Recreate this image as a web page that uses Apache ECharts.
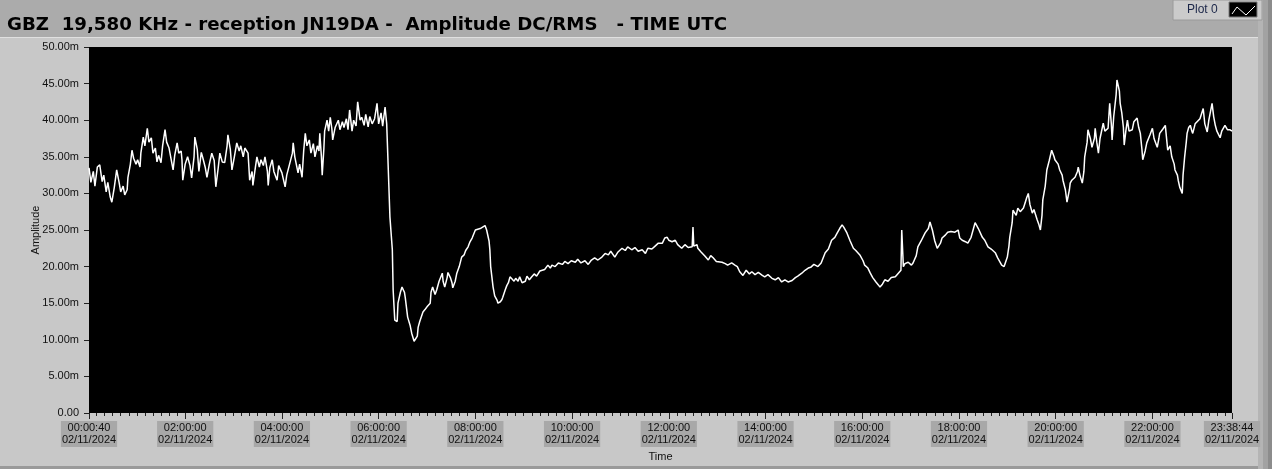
<!DOCTYPE html>
<html><head><meta charset="utf-8">
<script src="https://cdn.jsdelivr.net/npm/echarts@6/dist/echarts.min.js"></script>
<style>html,body{margin:0;padding:0;background:#c8c8c8;overflow:hidden}#c{width:1272px;height:469px}</style>
</head><body><div id="c"></div>
<script>
const titleText = 'GBZ  19,580 KHz - reception JN19DA -  Amplitude DC/RMS   - TIME UTC';
const seriesName = 'Plot 0';
const dateLabel = '02/11/2024';
const yAxisName = 'Amplitude';
const xAxisName = 'Time';
// minutes after midnight (UTC)
const startMin = 40 / 60;              // 00:00:40
const endMin = 23 * 60 + 38 + 44 / 60; // 23:38:44
const hourTicks = [120, 240, 360, 480, 600, 720, 840, 960, 1080, 1200, 1320];
const yTicks = [0, 5, 10, 15, 20, 25, 30, 35, 40, 45, 50];

const timeMin = [
0.67,3,6,8,11,14,17,19,22,24,
27,29,32,35,38,40,43,45,48,49,
52,54,56,59,61,64,65,68,70,73,
75,78,80,83,85,87,90,92,95,97,
100,102,105,107,110,112,115,116,117,120,
123,126,128,131,132,135,137,140,142,145,
147,150,153,156,158,161,163,166,169,172,
173,176,178,181,184,187,189,192,194,198,
200,203,204,207,209,212,214,217,219,222,
223,225,228,230,234,236,238,240,244,246,
250,253,254,256,260,262,265,267,269,271,
274,276,279,281,284,286,287,289,290,292,
293,296,298,300,302,303,306,310,312,315,
317,320,322,324,327,329,332,334,337,339,
342,344,347,349,352,355,358,360,363,365,
368,370,372,374,377,378,380,383,384,387,
389,392,393,396,399,401,404,405,408,409,
411,415,418,420,424,425,427,430,432,435,
439,440,442,445,446,449,451,452,455,457,
460,463,466,468,471,473,476,480,482,486,
488,492,494,497,498,499,502,504,507,508,
511,513,514,517,519,521,523,525,528,530,
533,535,538,542,544,547,550,553,556,560,
563,566,570,573,575,579,583,588,591,595,
599,604,607,611,616,620,624,628,632,637,
641,645,648,653,657,662,666,669,674,678,
682,687,691,694,699,703,707,712,715,718,
720,724,728,731,736,740,744,749,750,751,
755,756,760,765,769,772,775,779,781,786,
790,793,798,802,805,808,812,816,820,823,
827,831,836,839,843,848,852,856,860,864,
868,873,877,880,885,889,893,896,900,905,
909,914,918,922,926,929,932,935,937,941,
945,949,952,957,961,963,967,970,973,977,
980,982,985,988,992,996,1001,1004,1008,1009,
1011,1013,1017,1021,1023,1027,1029,1033,1038,1042,
1044,1047,1050,1053,1057,1059,1063,1066,1070,1075,
1079,1081,1084,1088,1091,1095,1100,1104,1109,1112,
1116,1120,1125,1128,1133,1136,1140,1142,1143,1146,
1147,1151,1153,1156,1160,1162,1164,1166,1168,1171,
1173,1177,1179,1181,1183,1184,1187,1189,1192,1195,
1198,1199,1203,1205,1208,1209,1212,1214,1217,1218,
1220,1224,1227,1228,1230,1233,1235,1236,1239,1240,
1243,1245,1248,1249,1251,1253,1255,1259,1261,1265,
1267,1269,1270,1272,1275,1276,1279,1280,1282,1284,
1285,1287,1289,1291,1295,1297,1301,1303,1305,1307,
1308,1311,1313,1317,1320,1322,1326,1328,1329,1333,
1336,1338,1339,1342,1344,1347,1348,1351,1352,1354,
1357,1358,1360,1362,1363,1365,1367,1369,1370,1373,
1375,1379,1383,1385,1388,1390,1394,1396,1398,1400,
1404,1406,1410,1413,1416,1418.73
];
// amplitude in milli-units
const amplitude = [
33.5,31.5,33.0,31.0,33.6,33.9,31.6,32.5,30.2,31.5,
29.5,28.8,30.8,33.2,31.5,30.2,31.0,29.8,30.5,32.2,
34.0,35.9,34.8,34.0,34.6,33.6,35.5,37.7,36.5,38.9,
37.0,37.6,35.5,36.2,34.3,35.2,34.2,36.5,38.7,37.0,
36.2,35.0,33.2,35.2,36.9,35.5,35.8,34.6,31.8,34.0,
35.0,33.8,32.1,35.0,37.7,36.0,33.0,35.6,34.8,33.5,
32.2,34.0,35.5,34.5,30.9,33.5,35.5,34.3,34.2,36.5,
38.0,36.0,33.2,35.0,36.9,35.8,36.5,35.0,36.2,35.5,
31.8,33.0,31.1,33.5,35.0,33.6,34.6,33.8,35.0,33.0,
31.1,33.5,34.6,33.0,31.8,33.8,34.0,32.8,30.9,32.5,
34.2,35.5,36.9,35.0,32.8,34.0,32.2,35.8,38.2,36.5,
37.3,35.5,36.8,35.0,36.5,35.8,38.2,35.0,32.5,36.0,
38.5,40.0,38.5,40.4,38.8,37.3,39.0,40.0,38.7,39.8,
39.0,40.2,38.7,41.4,38.5,40.0,39.2,42.5,40.0,40.4,
39.3,40.8,39.1,40.5,39.5,40.2,42.3,39.5,41.0,39.2,
41.8,39.5,33.2,26.8,22.3,16.8,12.7,12.5,15.0,16.5,
17.2,16.5,15.8,13.1,12.0,10.9,9.8,9.6,10.5,11.7,
12.5,13.8,14.2,14.5,15.0,16.5,17.2,16.2,16.8,18.0,
19.1,18.0,17.2,18.5,19.2,18.5,17.8,17.1,18.0,19.1,
20.0,21.3,21.6,22.2,22.7,23.3,23.9,25.0,25.1,25.2,
25.4,25.6,25.0,23.5,22.3,20.0,17.2,16.0,15.4,15.0,
15.2,15.5,15.8,16.8,17.4,17.8,18.6,18.8,18.0,18.4,
18.0,18.6,17.8,18.0,18.7,18.2,18.6,19.0,18.7,19.4,
19.5,19.6,20.2,19.8,20.2,20.0,20.5,20.3,20.7,20.4,
20.8,20.6,21.0,20.5,20.8,20.3,20.9,21.2,20.9,21.3,
21.8,21.6,22.1,21.3,22.0,22.5,22.2,22.7,22.3,22.6,
22.1,22.3,21.8,22.5,22.4,22.8,23.2,23.2,23.9,24.0,
23.6,23.4,23.6,23.0,22.5,23.0,22.6,22.7,25.4,22.8,
23.0,22.5,22.0,21.4,20.9,21.5,21.2,20.7,20.5,20.6,
20.4,20.2,20.5,20.2,20.0,19.3,18.8,19.5,19.0,19.3,
18.9,19.2,18.8,18.6,18.9,18.4,18.2,18.5,17.9,18.2,
17.9,18.1,18.5,18.7,19.1,19.5,19.8,19.9,20.3,20.0,
20.5,21.9,22.4,23.6,24.0,24.6,25.2,25.7,25.4,24.6,
23.5,22.5,22.2,21.6,20.8,20.2,19.8,19.1,18.5,17.9,
17.5,17.2,17.6,18.2,18.0,18.5,18.6,19.0,19.5,25.0,
20.0,20.4,20.6,20.2,20.5,21.5,22.7,23.5,24.6,25.2,
26.1,25.0,23.5,22.5,23.2,23.9,24.3,24.7,24.8,24.7,
25.0,23.9,23.6,23.4,23.2,24.0,26.0,25.2,24.0,23.6,
22.7,22.4,21.9,21.2,20.2,20.0,21.3,22.8,24.0,26.0,
27.7,27.0,28.0,27.5,28.0,28.7,29.4,30.0,28.5,27.3,
27.8,26.4,25.8,25.0,27.0,29.1,31.0,33.2,34.5,35.9,
35.0,34.6,34.0,33.2,32.5,31.8,30.5,28.8,30.5,31.4,
31.8,32.2,33.0,33.6,32.5,31.4,33.0,35.0,37.0,38.7,
37.5,36.3,37.5,38.9,37.0,35.5,37.5,39.6,38.5,38.9,
42.3,39.5,37.3,40.5,43.5,45.5,44.0,42.3,41.0,39.0,
36.6,38.5,40.0,38.5,38.7,39.8,40.3,39.0,38.2,36.0,
34.6,35.8,36.9,38.0,38.9,37.5,36.3,37.5,38.2,38.8,
39.3,37.0,35.9,36.5,35.0,34.0,33.2,32.5,31.8,30.8,
30.0,32.5,35.0,37.0,38.2,39.0,39.3,38.5,38.2,39.5,
39.3,40.2,41.6,39.5,38.4,40.0,42.3,40.5,39.3,38.5,
37.6,38.5,39.3,38.7,38.7,38.5
];

const n = Math.min(timeMin.length, amplitude.length);
const seriesData = [];
for (let i = 0; i < n; i++) seriesData.push([timeMin[i], amplitude[i]]);

const majorTicks = [startMin].concat(hourTicks, [endMin]);
const minorTicks = [];
for (let m = 10; m < endMin; m += 10) minorTicks.push(m);

function pad(v) { return (v < 10 ? '0' : '') + v; }
function fmtTime(v) {
  const s = Math.round(v * 60);
  return pad(Math.floor(s / 3600)) + ':' + pad(Math.floor((s % 3600) / 60)) + ':' + pad(s % 60) + '\n' + dateLabel;
}

const FONT = '"Liberation Sans", Arial, sans-serif';
const chart = echarts.init(document.getElementById('c'), null, { renderer: 'canvas' });
chart.setOption({
  animation: false,
  backgroundColor: '#c8c8c8',
  title: {
    text: titleText, left: 2, top: 11,
    textStyle: { fontFamily: '"DejaVu Sans", sans-serif', fontWeight: 'bold', fontSize: 18.2, color: '#000' }
  },
  graphic: [
    { type: 'rect', z: -1, shape: { x: 0, y: 0, width: 1272, height: 37 }, style: { fill: '#ababab' } },
    { type: 'rect', z: -1, shape: { x: 1258, y: 0, width: 5, height: 469 }, style: { fill: '#b4b4b4' } },
    { type: 'rect', z: -1, shape: { x: 1263, y: 0, width: 5, height: 469 }, style: { fill: '#a2a2a2' } },
    { type: 'rect', z: -1, shape: { x: 1268, y: 0, width: 4, height: 469 }, style: { fill: '#8c8c8c' } },
    { type: 'rect', z: -1, shape: { x: 0, y: 466, width: 1258, height: 3 }, style: { fill: '#9a9a9a' } },
    { type: 'rect', z: -1, shape: { x: 0, y: 37, width: 1258, height: 1 }, style: { fill: '#e0e0e0' } },
    { type: 'rect', z: 1, shape: { x: 1173, y: 0, width: 89, height: 20 }, style: { fill: '#cbcbcb', stroke: '#9a9a9a', lineWidth: 1 } },
    { type: 'text', z: 2, x: 1187, y: 10, style: { text: seriesName, fill: '#1b2648', font: '12px "Liberation Sans", Arial, sans-serif', textVerticalAlign: 'middle' } },
    { type: 'rect', z: 2, shape: { x: 1229, y: 2, width: 28, height: 15 }, style: { fill: '#000', stroke: '#7a7a7a', lineWidth: 1 } },
    { type: 'polyline', z: 3, shape: { points: [[1232, 14], [1237, 7], [1246, 15], [1255, 6]] }, style: { stroke: '#fff', lineWidth: 1, fill: null } }
  ],
  grid: {
    left: 89, right: 40, top: 47, bottom: 56,
    show: true, backgroundColor: '#000', borderWidth: 0,
    containLabel: false, outerBoundsMode: 'none'
  },
  xAxis: [{
    type: 'value', min: startMin, max: endMin,
    name: xAxisName, nameLocation: 'middle', nameGap: 38, nameMoveOverlap: false,
    nameTextStyle: { fontFamily: FONT, fontSize: 11, color: '#111' },
    axisLine: { show: false },
    splitLine: { show: false },
    axisTick: { show: true, customValues: majorTicks, length: 6, lineStyle: { color: '#222' } },
    axisLabel: {
      customValues: majorTicks, formatter: fmtTime, margin: 8,
      fontFamily: FONT, fontSize: 11, lineHeight: 12, color: '#111',
      backgroundColor: '#a8a8a8', padding: [1, 1, 1, 1], align: 'center'
    }
  }, {
    type: 'value', min: startMin, max: endMin, position: 'bottom',
    axisLine: { show: false }, splitLine: { show: false }, axisLabel: { show: false },
    axisTick: { show: true, customValues: minorTicks, length: 3, lineStyle: { color: '#222' } }
  }],
  yAxis: {
    type: 'value', min: yTicks[0], max: yTicks[yTicks.length - 1], interval: yTicks[1] - yTicks[0],
    name: yAxisName, nameLocation: 'middle', nameGap: 48, nameMoveOverlap: false,
    nameTextStyle: { fontFamily: FONT, fontSize: 11, color: '#111' },
    axisLine: { show: false },
    splitLine: { show: false },
    axisTick: { show: true, length: 5, lineStyle: { color: '#222' } },
    axisLabel: {
      margin: 10, fontFamily: FONT, fontSize: 11, color: '#111',
      formatter: v => v === 0 ? '0.00' : v.toFixed(2) + 'm'
    }
  },
  series: [{
    name: seriesName, type: 'line', xAxisIndex: 0, data: seriesData,
    showSymbol: false, symbol: 'none',
    lineStyle: { color: '#fff', width: 1.5 }
  }]
});
</script></body></html>
